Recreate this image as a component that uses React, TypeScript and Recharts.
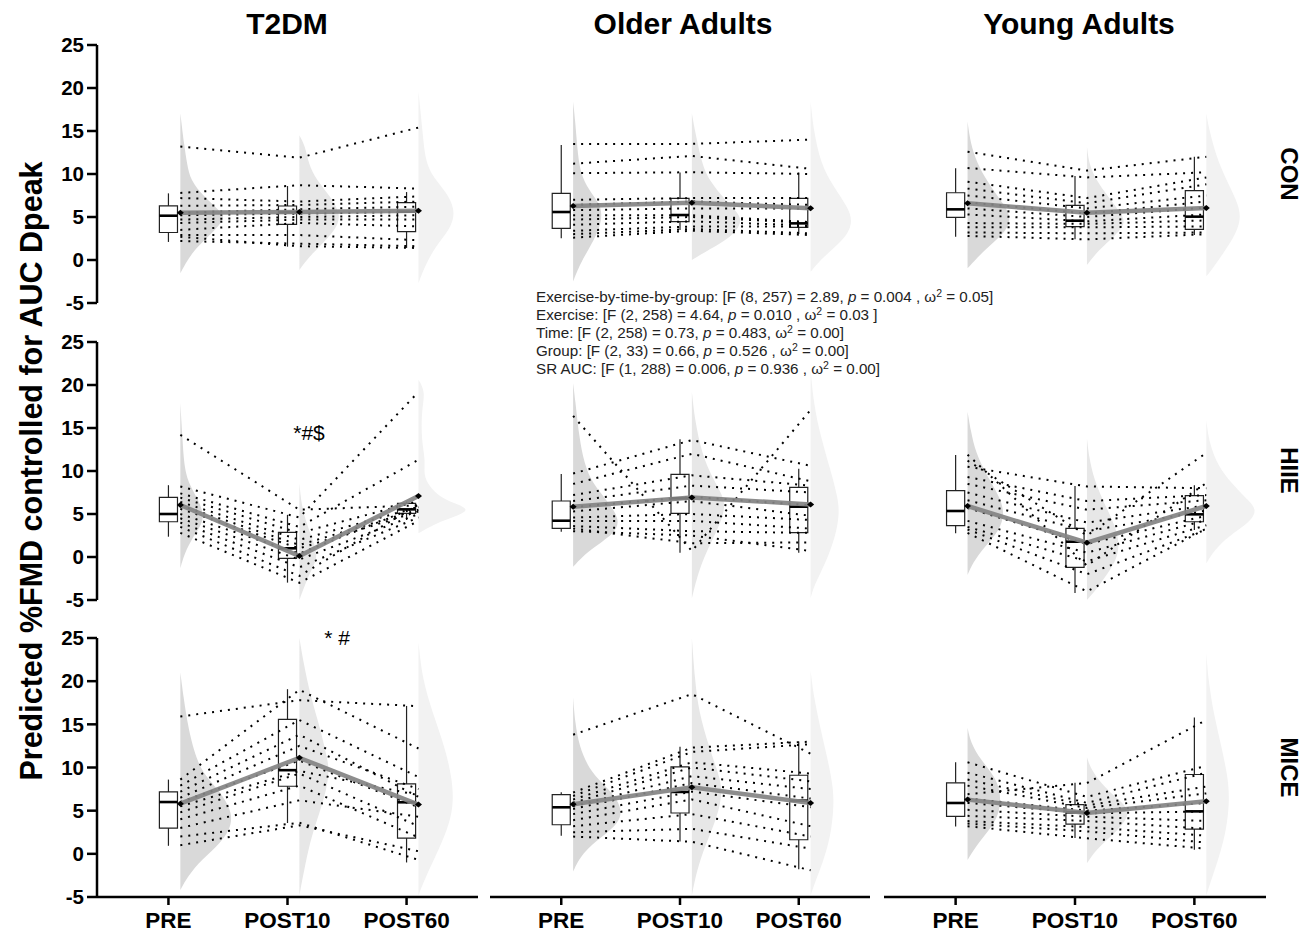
import React from "react";
import { ComposedChart, XAxis, YAxis, Scatter, ReferenceArea, ReferenceLine } from "recharts";

const groups = ["T2DM", "Older Adults", "Young Adults"];
const exercises = ["CON", "HIIE", "MICE"];
const times = ["PRE", "POST10", "POST60"];
const yTicks = [-5, 0, 5, 10, 15, 20, 25];

// participants: [PRE, POST10, POST60]
const t2dmConSubjects = [
  [13.2, 11.9, 15.4], [7.8, 8.7, 8.3], [7.2, 6.8, 7.4], [6.3, 6.4, 6.8], [5.5, 5.9, 6.2], [5.2, 5.4, 5.6],
  [4.7, 5.0, 5.2], [4.3, 4.7, 4.7], [3.5, 4.3, 3.9], [2.9, 2.9, 2.3], [2.7, 1.6, 1.4], [2.2, 1.9, 1.6],
];
const t2dmHiieSubjects = [
  [14.2, 5.5, 6.0], [8.2, 4.6, 19.2], [7.4, 3.5, 11.3], [6.9, 2.8, 6.5], [6.4, 2.0, 5.8], [6.0, 1.4, 5.5],
  [5.6, 1.0, 5.3], [5.0, 0.4, 5.9], [4.5, -0.3, 5.0], [4.0, -1.2, 4.6], [3.5, -2.2, 6.1], [2.8, -3.0, 4.2],
];
const t2dmMiceSubjects = [
  [15.9, 17.8, 17.1], [8.6, 19.0, 12.2], [7.9, 15.5, 8.9], [7.2, 13.8, 6.6], [6.5, 12.5, 7.5], [6.0, 10.8, 5.4],
  [5.5, 9.6, 6.8], [4.8, 9.3, 3.2], [4.0, 7.9, 1.9], [3.0, 6.2, 4.3], [2.0, 3.6, -0.7], [1.0, 3.3, 0.3],
];
const olderConSubjects = [
  [13.5, 13.5, 14.0], [11.2, 12.1, 10.6], [10.1, 10.2, 10.0], [7.0, 7.2, 7.2], [6.4, 6.8, 6.4], [5.8, 6.0, 6.0],
  [5.2, 5.2, 4.4], [4.7, 5.0, 4.3], [4.1, 4.5, 4.0], [3.4, 3.9, 3.9], [3.0, 3.6, 3.1], [2.6, 3.4, 2.9],
];
const olderHiieSubjects = [
  [16.4, 0.7, 17.1], [9.7, 13.6, 10.6], [8.5, 12.0, 8.8], [7.2, 9.5, 8.3], [6.5, 8.3, 7.5], [5.8, 7.0, 6.0],
  [5.3, 6.5, 4.8], [4.6, 5.0, 4.3], [4.2, 4.2, 3.3], [3.6, 3.0, 2.8], [3.3, 1.6, 1.7], [3.0, 2.5, 0.7],
];
const olderMiceSubjects = [
  [13.8, 18.5, 11.6], [7.1, 12.3, 13.0], [6.7, 11.8, 12.7], [6.3, 10.6, 9.3], [5.9, 10.0, 8.4], [5.5, 9.0, 7.5],
  [5.2, 8.2, 6.4], [4.6, 7.2, 5.4], [3.9, 6.3, 3.2], [3.2, 4.6, 2.0], [2.5, 2.9, 0.6], [2.0, 1.4, -1.9],
];
const youngConSubjects = [
  [12.6, 10.4, 12.0], [10.7, 9.6, 10.2], [9.1, 7.2, 9.6], [8.3, 6.6, 8.8], [7.5, 6.0, 7.5], [6.7, 5.4, 6.8],
  [6.0, 5.0, 6.1], [5.3, 4.5, 5.3], [4.3, 4.2, 4.6], [3.8, 3.8, 3.9], [3.2, 3.1, 3.2], [2.8, 2.4, 3.0],
];
const youngHiieSubjects = [
  [11.9, -1.0, 8.6], [11.2, 2.5, 12.1], [10.5, 8.2, 8.0], [9.3, 6.5, 7.2], [8.5, 5.5, 6.6], [7.5, 4.0, 6.0],
  [6.6, 3.0, 5.4], [5.7, 1.5, 4.8], [4.2, 0.5, 4.3], [3.5, -0.5, 3.7], [3.2, -2.0, 3.2], [2.8, -4.0, 3.3],
];
const youngMiceSubjects = [
  [6.9, 8.2, 15.5], [10.6, 6.6, 10.2], [9.4, 5.9, 9.4], [8.6, 5.6, 7.8], [7.9, 5.3, 7.0], [6.4, 5.0, 5.9],
  [5.9, 4.7, 4.9], [5.1, 4.3, 3.8], [4.4, 3.8, 2.9], [3.8, 3.1, 2.1], [3.5, 2.6, 1.3], [3.2, 1.8, 0.6],
];

// box plots per time: [min, q1, median, q3, max]
const t2dmConBoxes = [[2.1, 3.2, 5.15, 6.3, 7.75], [1.55, 4.15, 5.54, 6.28, 8.6], [1.4, 3.3, 5.62, 6.67, 7.9]];
const t2dmHiieBoxes = [[2.36, 4.1, 5.0, 6.94, 8.35], [-2.98, -0.15, 1.01, 2.87, 4.9], [4.3, 5.08, 5.54, 6.24, 6.44]];
const t2dmMiceBoxes = [[0.93, 2.98, 6.0, 7.17, 8.6], [3.57, 7.83, 9.69, 15.58, 19.07], [-1.0, 1.82, 5.97, 8.1, 17.13]];
const olderConBoxes = [[2.52, 3.68, 5.58, 7.75, 13.37], [3.49, 4.46, 5.23, 7.17, 10.16], [3.02, 3.8, 4.26, 7.17, 10.16]];
const olderHiieBoxes = [[2.95, 3.33, 4.22, 6.51, 9.65], [0.5, 5.08, 6.82, 9.61, 13.7], [0.5, 2.83, 5.85, 8.1, 10.25]];
const olderMiceBoxes = [[2.09, 3.37, 5.39, 6.86, 7.13], [1.43, 4.73, 7.17, 10.08, 12.4], [-1.78, 1.63, 6.16, 9.1, 13.02]];
const youngConBoxes = [[2.71, 4.95, 5.89, 7.82, 10.66], [2.4, 3.88, 4.57, 6.36, 9.77], [2.91, 3.57, 5.04, 8.06, 12.0]];
const youngHiieBoxes = [[2.76, 3.64, 5.35, 7.71, 11.86], [-4.2, -1.2, 1.78, 3.33, 8.26], [3.14, 4.1, 4.96, 7.13, 8.35]];
const youngMiceBoxes = [[3.18, 4.34, 5.89, 8.22, 10.62], [1.82, 3.45, 4.81, 5.7, 8.22], [0.47, 2.87, 4.92, 9.19, 15.78]];

// predicted means per time
const t2dmConMeans = [5.5, 5.58, 5.74];
const t2dmHiieMeans = [6.05, 0.12, 7.09];
const t2dmMiceMeans = [5.81, 11.12, 5.7];
const olderConMeans = [6.28, 6.67, 6.01];
const olderHiieMeans = [5.85, 6.93, 6.11];
const olderMiceMeans = [5.74, 7.71, 5.89];
const youngConMeans = [6.59, 5.5, 6.05];
const youngHiieMeans = [5.93, 1.67, 5.93];
const youngMiceMeans = [6.28, 4.73, 6.08];

// half-violin outlines per time: [value, density]
const t2dmConViolins = [
  [[-1.55, 0], [0, 0.7], [1.55, 1.7], [3.5, 3.5], [4.65, 4.3], [5.4, 4.3], [7.4, 2.3], [9.3, 1.0], [11.2, 0.67], [13.2, 0.4], [17.05, 0]],
  [[-1.16, 0], [0, 0.7], [1.55, 2.0], [3.5, 3.6], [5.2, 4.2], [7.4, 3.1], [9.3, 1.7], [11.2, 0.9], [13.2, 0.6], [14.5, 0]],
  [[-2.7, 0], [-0.8, 0.6], [1.6, 1.7], [3.5, 3.1], [5.4, 3.7], [7.4, 3.1], [9.3, 1.7], [11.2, 0.7], [15.1, 0.4], [19.6, 0]],
];
const t2dmHiieViolins = [
  [[-1.3, 0], [0.4, 0.4], [2.4, 1.3], [3.9, 2.2], [5.1, 2.3], [6.6, 1.8], [8.2, 1.0], [10.1, 0.4], [14, 0.2], [17.9, 0]],
  [[-5, 0], [-3.1, 0.6], [-1.5, 1.2], [-0.35, 1.7], [0.8, 1.7], [2.4, 1.2], [4.3, 0.6], [6.2, 0.2], [8.57, 0]],
  [[2.75, 0], [3.9, 1.7], [4.7, 3.7], [5.5, 5.2], [6.2, 3.7], [7.0, 2.1], [8.2, 1.1], [9.5, 0.5], [11.3, 0.7], [13.5, 0.3], [17, 0.3], [19.2, 0.7], [20.6, 0]],
];
const t2dmMiceViolins = [
  [[-4.2, 0], [-3.1, 0.5], [-1.1, 1.7], [0.85, 3.7], [2.8, 5.0], [4.7, 5.2], [6.7, 4.3], [8.6, 2.8], [10.5, 1.7], [14.4, 0.8], [18.3, 0.3], [21, 0]],
  [[-4.8, 0], [-1.1, 0.6], [2.0, 1.2], [4.7, 2.0], [7.4, 2.7], [9.8, 3.0], [11.4, 2.7], [14.5, 2.1], [18.3, 1.1], [22.2, 0.4], [25, 0]],
  [[-4.8, 0], [-3.0, 0.6], [-0.3, 1.7], [2.8, 2.9], [5.5, 3.5], [8.6, 3.4], [12.5, 2.6], [16.4, 1.4], [20.2, 0.4], [24.5, 0]],
];
const olderConViolins = [
  [[-2.5, 0], [-0.4, 0.7], [1.9, 1.9], [3.9, 2.7], [5.4, 2.9], [6.6, 2.6], [8.1, 1.6], [10.1, 0.7], [13.2, 0.4], [16.3, 0.2], [18.4, 0]],
  [[0, 0], [1.2, 1.7], [2.7, 4.0], [4.3, 5.0], [5.4, 4.7], [7.0, 3.3], [9.3, 1.7], [11.2, 1.0], [15.1, 0.3], [17.05, 0]],
  [[-1.36, 0], [0.4, 1.3], [2.3, 3.3], [4.3, 4.3], [6.2, 3.7], [8.5, 2.3], [11.2, 1.0], [15.1, 0.3], [18.4, 0]],
];
const olderHiieViolins = [
  [[-1.12, 0], [0.8, 1.6], [2.75, 4.2], [4.3, 4.7], [6.3, 3.6], [8.6, 1.9], [10.9, 1.1], [14, 0.6], [18.4, 0.2], [20.2, 0]],
  [[-4.8, 0], [-1.5, 0.7], [1.2, 1.7], [3.5, 2.7], [5.5, 3.3], [7.0, 3.2], [9.3, 2.0], [12, 1.0], [15.9, 0.3], [19.2, 0]],
  [[-4.8, 0], [-3.4, 0.3], [-0.7, 1.5], [2.4, 2.5], [5.1, 2.9], [7.0, 2.7], [10.1, 2.0], [14, 1.0], [17.9, 0.3], [21.7, 0]],
];
const olderMiceViolins = [
  [[-2.05, 0], [0.1, 0.9], [2.0, 2.9], [3.6, 4.6], [5.1, 4.9], [6.7, 4.2], [8.2, 2.9], [9.8, 1.6], [12.5, 0.6], [15.2, 0.2], [18.1, 0]],
  [[-4.8, 0], [-1.9, 0.5], [0.85, 1.3], [3.6, 2.3], [5.9, 2.9], [7.9, 3.0], [9.8, 2.5], [12.5, 1.7], [16.4, 0.7], [20.2, 0.3], [25, 0]],
  [[-4.8, 0], [-3.4, 0.4], [-1.1, 1.2], [2.0, 2.0], [5.1, 2.3], [7.4, 2.3], [10.5, 1.8], [14.4, 1.0], [18.3, 0.3], [21.2, 0]],
];
const youngConViolins = [
  [[-0.97, 0], [1.2, 1.7], [3.1, 3.7], [4.65, 4.3], [5.8, 4.0], [7.4, 3.0], [9.6, 1.7], [11.9, 0.7], [14.3, 0.2], [16.1, 0]],
  [[-0.58, 0], [1.2, 1.2], [2.7, 2.7], [4.3, 3.9], [5.4, 3.4], [7.4, 2.1], [9.3, 0.9], [11.2, 0.2], [13.2, 0]],
  [[-1.9, 0], [-1.2, 0.5], [0.8, 1.7], [3.1, 3.0], [5.1, 3.5], [7.0, 3.0], [9.3, 2.0], [12, 1.0], [15.1, 0.3], [17.05, 0]],
];
const youngHiieViolins = [
  [[-2.1, 0], [-0.7, 0.5], [1.2, 1.7], [3.1, 3.2], [5.1, 3.7], [7.0, 3.2], [9.3, 2.0], [12.1, 0.8], [14.8, 0.3], [16.9, 0]],
  [[-5, 0], [-3.8, 0.9], [-1.9, 2.1], [0.04, 3.1], [2.0, 3.2], [3.9, 2.7], [6.3, 1.7], [9.0, 0.7], [11.7, 0.2], [13.8, 0]],
  [[-0.74, 0], [0.8, 0.8], [2.4, 2.2], [3.9, 4.2], [5.5, 5.2], [7.0, 3.8], [8.6, 2.5], [10.5, 1.2], [13.2, 0.3], [15.9, 0]],
];
const youngMiceViolins = [
  [[-0.7, 0], [0.85, 0.8], [2.8, 2.2], [4.3, 3.0], [5.9, 3.3], [7.4, 3.2], [9.0, 2.7], [10.9, 1.3], [12.9, 0.3], [14.6, 0]],
  [[-1.08, 0], [0.5, 0.9], [2.0, 2.4], [3.6, 3.7], [5.1, 4.4], [6.7, 2.7], [8.2, 1.4], [9.8, 0.4], [11.2, 0]],
  [[-4.8, 0], [-3.0, 0.5], [-0.3, 1.3], [2.8, 2.0], [5.9, 2.3], [8.6, 2.2], [12.5, 1.5], [16.4, 0.7], [20.2, 0.2], [23.3, 0]],
];

const statLines = [
  ["Exercise-by-time-by-group: [F (8, 257) = 2.89, ", " = 0.004 , ω", " = 0.05]"],
  ["Exercise: [F (2, 258) = 4.64, ", " = 0.010 , ω", " = 0.03 ]"],
  ["Time: [F (2, 258) = 0.73, ", " = 0.483, ω", " = 0.00]"],
  ["Group: [F (2, 33) = 0.66, ", " = 0.526 , ω", " = 0.00]"],
  ["SR AUC: [F (1, 288) = 0.006, ", " = 0.936 , ω", " = 0.00]"],
];

// rows: CON, HIIE, MICE ; columns: T2DM, Older, Young
const panels = [
  { subjects: t2dmConSubjects, boxes: t2dmConBoxes, means: t2dmConMeans, violins: t2dmConViolins },
  { subjects: olderConSubjects, boxes: olderConBoxes, means: olderConMeans, violins: olderConViolins },
  { subjects: youngConSubjects, boxes: youngConBoxes, means: youngConMeans, violins: youngConViolins },
  { subjects: t2dmHiieSubjects, boxes: t2dmHiieBoxes, means: t2dmHiieMeans, violins: t2dmHiieViolins },
  { subjects: olderHiieSubjects, boxes: olderHiieBoxes, means: olderHiieMeans, violins: olderHiieViolins },
  { subjects: youngHiieSubjects, boxes: youngHiieBoxes, means: youngHiieMeans, violins: youngHiieViolins },
  { subjects: t2dmMiceSubjects, boxes: t2dmMiceBoxes, means: t2dmMiceMeans, violins: t2dmMiceViolins },
  { subjects: olderMiceSubjects, boxes: olderMiceBoxes, means: olderMiceMeans, violins: olderMiceViolins },
  { subjects: youngMiceSubjects, boxes: youngMiceBoxes, means: youngMiceMeans, violins: youngMiceViolins },
];

const FONT = "'Liberation Sans', Arial, Helvetica, sans-serif";
const violinFill = ["#d9d9d9", "#e7e7e7", "#f2f2f2"];
const plotLeft = [97, 490, 884];
const plotWidth = [381, 380, 382];
const plotTop = [45, 341.5, 638];
const plotHeight = [258, 258, 259];
const titleX = [287, 683, 1079];
const shift = 0.1; // violin/line offset right of the box
const boxHalf = 0.076;
const densityScale = 10 / 119;

const Nothing = () => <g />;
const Diamond = ({ cx, cy }: any) => (
  <path d={`M${cx - 3.5},${cy}L${cx},${cy - 3}L${cx + 3.5},${cy}L${cx},${cy + 3}Z`} fill="#000" />
);

function Panel({ row, col }: { row: number; col: number }) {
  const p = panels[row * 3 + col];
  const showX = row === 2;
  const showY = col === 0;
  const padL = 80, padT = 20, padR = 12, padB = 50;
  const width = plotWidth[col] + padL + padR;
  const height = plotHeight[row] + padT + padB;
  const axisStyle = { stroke: "#000", strokeWidth: 2.5 };

  return (
    <div style={{ position: "absolute", left: plotLeft[col] - padL, top: plotTop[row] - padT }}>
      <ComposedChart
        width={width}
        height={height}
        margin={{ top: padT, right: padR, bottom: showX ? 0 : padB, left: showY ? 0 : padL }}
      >
        <XAxis
          type="number"
          dataKey="x"
          domain={[0.4, 3.6]}
          ticks={[1, 2, 3]}
          tickFormatter={(v: number) => times[v - 1]}
          allowDataOverflow
          hide={!showX}
          height={padB}
          interval={0}
          tickSize={8}
          tickMargin={7}
          axisLine={axisStyle}
          tickLine={axisStyle}
          tick={{ fontSize: 22.5, fontWeight: 700, fill: "#000", fontFamily: FONT }}
        />
        <YAxis
          type="number"
          dataKey="y"
          domain={[-5, 25]}
          ticks={yTicks}
          allowDataOverflow
          hide={!showY}
          width={padL}
          interval={0}
          tickSize={10}
          tickMargin={3}
          axisLine={axisStyle}
          tickLine={axisStyle}
          tick={{ fontSize: 20.5, fontWeight: 700, fill: "#000", fontFamily: FONT }}
        />

        {p.violins.map((v, t) => (
          <Scatter
            key={`v${t}`}
            data={v.map(([y, d]) => ({ x: t + 1 + shift + d * densityScale, y }))}
            shape={Nothing}
            line={{ fill: violinFill[t], stroke: "none" }}
            lineJointType="basis"
            isAnimationActive={false}
          />
        ))}

        {p.boxes.map(([lo, q1, med, q3, hi], t) => (
          <ReferenceArea
            key={`b${t}`}
            x1={t + 1 - boxHalf}
            x2={t + 1 + boxHalf}
            y1={q1}
            y2={q3}
            fill="none"
            stroke="#222"
            strokeWidth={1.2}
            fillOpacity={0}
            ifOverflow="visible"
          />
        ))}
        {p.boxes.map(([lo, q1, med, q3, hi], t) => (
          <ReferenceLine key={`wu${t}`} segment={[{ x: t + 1, y: q3 }, { x: t + 1, y: hi }]} stroke="#222" strokeWidth={1.2} ifOverflow="visible" />
        ))}
        {p.boxes.map(([lo, q1, med, q3, hi], t) => (
          <ReferenceLine key={`wl${t}`} segment={[{ x: t + 1, y: lo }, { x: t + 1, y: q1 }]} stroke="#222" strokeWidth={1.2} ifOverflow="visible" />
        ))}
        {p.boxes.map(([lo, q1, med, q3, hi], t) => (
          <ReferenceLine key={`m${t}`} segment={[{ x: t + 1 - boxHalf, y: med }, { x: t + 1 + boxHalf, y: med }]} stroke="#000" strokeWidth={2.6} ifOverflow="visible" />
        ))}

        {p.subjects.map((s, i) => (
          <Scatter
            key={`s${i}`}
            data={s.map((y, t) => ({ x: t + 1 + shift, y }))}
            shape={Nothing}
            line={{ stroke: "#000", strokeWidth: 2, strokeDasharray: "2 6" }}
            isAnimationActive={false}
          />
        ))}

        <Scatter
          data={p.means.map((y, t) => ({ x: t + 1 + shift, y }))}
          shape={Diamond}
          line={{ stroke: "#838383", strokeWidth: 4.5, strokeOpacity: 0.92 }}
          isAnimationActive={false}
        />
      </ComposedChart>
    </div>
  );
}

export default function App() {
  const rowCenter = plotTop.map((t, i) => t + plotHeight[i] / 2);
  return (
    <div style={{ position: "absolute", left: 0, top: 0, width: 1311, height: 935, background: "#fff", fontFamily: FONT }}>
      {[0, 1, 2].map((r) => [0, 1, 2].map((c) => <Panel key={`${r}-${c}`} row={r} col={c} />))}
      <svg width={1311} height={935} style={{ position: "absolute", left: 0, top: 0, pointerEvents: "none" }} fontFamily={FONT}>
        {groups.map((g, i) => (
          <text key={g} x={titleX[i]} y={34} textAnchor="middle" fontSize={30} fontWeight={700} fill="#000">
            {g}
          </text>
        ))}
        <text transform="translate(42,471) rotate(-90)" textAnchor="middle" fontSize={30.5} fontWeight={700} fill="#000">
          Predicted %FMD controlled for AUC Dpeak
        </text>
        {exercises.map((e, i) => (
          <text key={e} transform={`translate(1281,${rowCenter[i]}) rotate(90)`} textAnchor="middle" fontSize={24} fontWeight={700} fill="#000">
            {e}
          </text>
        ))}
        {statLines.map(([a, b, c], i) => (
          <text key={i} x={536} y={302 + i * 18.1} fontSize={15.2} fill="#222" style={{ whiteSpace: "pre" }}>
            {a}
            <tspan fontStyle="italic">p</tspan>
            {b}
            <tspan dy={-5.5} fontSize={10.5}>2</tspan>
            <tspan dy={5.5}>{c}</tspan>
          </text>
        ))}
        <text x={309} y={440} textAnchor="middle" fontSize={21} fill="#000">*#$</text>
        <text x={337} y={645} textAnchor="middle" fontSize={21} fill="#000">* #</text>
      </svg>
    </div>
  );
}
